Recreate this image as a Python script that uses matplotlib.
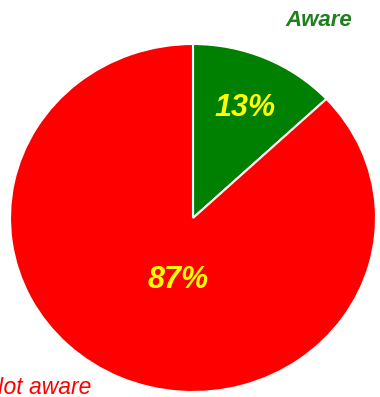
import matplotlib
matplotlib.use("Agg")
import matplotlib.pyplot as plt

# Data
labels = ["Aware", "Not aware"]
values = [13, 87]
colors = ["#008000", "#ff0000"]
label_colors = ["#1f7f1f", "#ff0000"]

W, H = 380, 397
fig = plt.figure(figsize=(W / 100, H / 100), dpi=100)

# pie is slightly stretched horizontally: centre (193, 218), radii 183 x 174 px
cx, cy, rx, ry = 193, 218, 183, 174
ax = fig.add_axes([(cx - rx) / W, (H - cy - ry) / H, 2 * rx / W, 2 * ry / H])
wedges, _ = ax.pie(values, colors=colors, startangle=90, counterclock=False,
                   wedgeprops=dict(edgecolor="white", linewidth=1.5))
ax.set_xlim(-1, 1)
ax.set_ylim(-1, 1)
ax.set_aspect("auto")
ax.axis("off")

font = ["Liberation Sans", "DejaVu Sans"]

# percentage labels
pct_pos = [(245, 108), (178, 280)]
for v, (px, py) in zip(values, pct_pos):
    fig.text(px / W, 1 - py / H, f"{v}%", color="#ffff00", fontsize=22,
             fontweight="bold", fontstyle="italic", family=font,
             ha="center", va="center")

# category labels (the "Not aware" label runs off the left edge, as in the source)
fig.text(319 / W, 1 - 21 / H, labels[0], color=label_colors[0], fontsize=16,
         fontweight="bold", fontstyle="italic", family=font,
         ha="center", va="center")
fig.text(91 / W, 1 - 387 / H, labels[1], color=label_colors[1], fontsize=16.5,
         fontstyle="italic", family=font, ha="right", va="center")

fig.savefig("out.png", dpi=100)
